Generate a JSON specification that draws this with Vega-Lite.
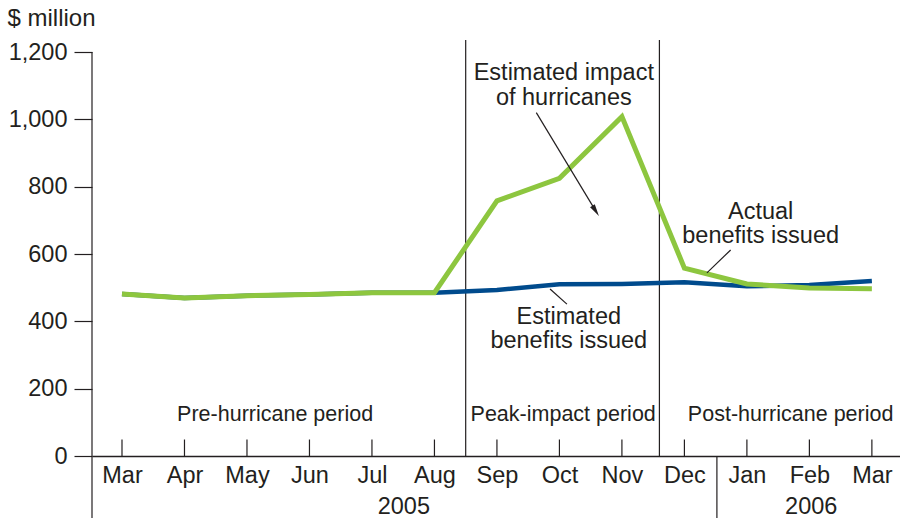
{
  "$schema": "https://vega.github.io/schema/vega-lite/v6.json",
  "width": 808,
  "height": 404,
  "autosize": "none",
  "padding": {"left": 92, "top": 52, "right": 0, "bottom": 62},
  "background": "white",
  "config": {
    "view": {"stroke": null},
    "font": "Liberation Sans",
    "text": {"font": "Liberation Sans", "color": "#231f20"}
  },
  "datasets": {
    "series": [
      {"m": 0, "series": "Estimated", "value": 481},
      {"m": 1, "series": "Estimated", "value": 469},
      {"m": 2, "series": "Estimated", "value": 476},
      {"m": 3, "series": "Estimated", "value": 480},
      {"m": 4, "series": "Estimated", "value": 485},
      {"m": 5, "series": "Estimated", "value": 485},
      {"m": 6, "series": "Estimated", "value": 493},
      {"m": 7, "series": "Estimated", "value": 510},
      {"m": 8, "series": "Estimated", "value": 511},
      {"m": 9, "series": "Estimated", "value": 516},
      {"m": 10, "series": "Estimated", "value": 504},
      {"m": 11, "series": "Estimated", "value": 508},
      {"m": 12, "series": "Estimated", "value": 520},
      {"m": 0, "series": "Actual", "value": 481},
      {"m": 1, "series": "Actual", "value": 469},
      {"m": 2, "series": "Actual", "value": 476},
      {"m": 3, "series": "Actual", "value": 480},
      {"m": 4, "series": "Actual", "value": 485},
      {"m": 5, "series": "Actual", "value": 485},
      {"m": 6, "series": "Actual", "value": 758},
      {"m": 7, "series": "Actual", "value": 825},
      {"m": 8, "series": "Actual", "value": 1008},
      {"m": 9, "series": "Actual", "value": 558},
      {"m": 10, "series": "Actual", "value": 511},
      {"m": 11, "series": "Actual", "value": 499},
      {"m": 12, "series": "Actual", "value": 497}
    ],
    "ticks": [
      {"m": 0}, {"m": 1}, {"m": 2}, {"m": 3}, {"m": 4}, {"m": 5}, {"m": 6},
      {"m": 7}, {"m": 8}, {"m": 9}, {"m": 10}, {"m": 11}, {"m": 12}
    ],
    "dividers": [
      {"x": 5.5, "y": 0, "y2": 1236},
      {"x": 8.6, "y": 0, "y2": 1236},
      {"x": 9.52, "y": -200, "y2": 0},
      {"x": -0.48, "y": -200, "y2": 1200}
    ],
    "periods": [
      {"x": 2.45, "y": 122, "label": "Pre-hurricane period"},
      {"x": 7.06, "y": 122, "label": "Peak-impact period"},
      {"x": 10.7, "y": 122, "label": "Post-hurricane period"}
    ],
    "years": [
      {"x": 4.51, "y": -151, "label": "2005"},
      {"x": 11.03, "y": -151, "label": "2006"}
    ],
    "notes": [
      {"x": 7.07, "y": 1137, "label": ["Estimated impact", "of hurricanes"]},
      {"x": 10.22, "y": 725, "label": ["Actual", "benefits issued"]},
      {"x": 7.15, "y": 413, "label": ["Estimated", "benefits issued"]}
    ],
    "leaders": [
      {"x": 6.63, "y": 1020, "x2": 7.58, "y2": 728},
      {"x": 9.74, "y": 612, "x2": 9.36, "y2": 544},
      {"x": 6.85, "y": 496, "x2": 7.12, "y2": 451}
    ],
    "arrowheads": [
      {"x": 7.58, "y": 728}
    ]
  },
  "layer": [
    {
      "data": {"name": "ticks"},
      "mark": {"type": "rule", "color": "#231f20", "strokeWidth": 1.2},
      "encoding": {
        "x": {
          "field": "m", "type": "quantitative",
          "scale": {"domain": [-0.48, 12.45], "nice": false, "zero": false},
          "axis": {
            "values": [0, 1, 2, 3, 4, 5, 6, 7, 8, 9, 10, 11, 12],
            "labelExpr": "['Mar','Apr','May','Jun','Jul','Aug','Sep','Oct','Nov','Dec','Jan','Feb','Mar'][datum.value]",
            "title": null,
            "ticks": false,
            "grid": false,
            "domain": true,
            "domainColor": "#231f20",
            "domainWidth": 1.3,
            "labelFont": "Liberation Sans",
            "labelFontSize": 23.5,
            "labelColor": "#231f20",
            "labelPadding": 7,
            "labelFlush": false,
            "labelOverlap": false
          }
        },
        "y": {
          "datum": 0, "type": "quantitative",
          "scale": {"domain": [0, 1200], "nice": false},
          "axis": {
            "values": [0, 200, 400, 600, 800, 1000, 1200],
            "format": ",d",
            "grid": false,
            "domain": false,
            "ticks": true,
            "tickSize": 18,
            "tickColor": "#231f20",
            "tickWidth": 1.2,
            "labelFont": "Liberation Sans",
            "labelFontSize": 23.5,
            "labelColor": "#231f20",
            "labelPadding": 7,
            "title": "$ million",
            "titleAngle": 0,
            "titleAlign": "left",
            "titleBaseline": "middle",
            "titleX": -85,
            "titleY": -34,
            "titleFont": "Liberation Sans",
            "titleFontSize": 24,
            "titleFontWeight": "normal",
            "titleColor": "#231f20"
          }
        },
        "y2": {"datum": 49}
      }
    },
    {
      "data": {"name": "dividers"},
      "mark": {"type": "rule", "color": "#231f20", "strokeWidth": 1.2},
      "encoding": {
        "x": {"field": "x", "type": "quantitative"},
        "y": {"field": "y", "type": "quantitative"},
        "y2": {"field": "y2"}
      }
    },
    {
      "data": {"name": "series"},
      "transform": [{"filter": "datum.series === 'Estimated'"}],
      "mark": {"type": "line", "color": "#004b8d", "strokeWidth": 4.5},
      "encoding": {
        "x": {"field": "m", "type": "quantitative"},
        "y": {"field": "value", "type": "quantitative"}
      }
    },
    {
      "data": {"name": "series"},
      "transform": [{"filter": "datum.series === 'Actual'"}],
      "mark": {"type": "line", "color": "#8dc63f", "strokeWidth": 5},
      "encoding": {
        "x": {"field": "m", "type": "quantitative"},
        "y": {"field": "value", "type": "quantitative"}
      }
    },
    {
      "data": {"name": "leaders"},
      "mark": {"type": "rule", "color": "#231f20", "strokeWidth": 1.2},
      "encoding": {
        "x": {"field": "x", "type": "quantitative"},
        "y": {"field": "y", "type": "quantitative"},
        "x2": {"field": "x2"},
        "y2": {"field": "y2"}
      }
    },
    {
      "data": {"name": "arrowheads"},
      "mark": {"type": "point", "shape": "M0,-1L0.45,1L-0.45,1Z", "filled": true, "color": "#231f20", "size": 150, "angle": 148, "opacity": 1},
      "encoding": {
        "x": {"field": "x", "type": "quantitative"},
        "y": {"field": "y", "type": "quantitative"}
      }
    },
    {
      "data": {"name": "periods"},
      "mark": {"type": "text", "fontSize": 21.5, "align": "center", "baseline": "middle"},
      "encoding": {
        "x": {"field": "x", "type": "quantitative"},
        "y": {"field": "y", "type": "quantitative"},
        "text": {"field": "label"}
      }
    },
    {
      "data": {"name": "years"},
      "mark": {"type": "text", "fontSize": 23.5, "align": "center", "baseline": "middle"},
      "encoding": {
        "x": {"field": "x", "type": "quantitative"},
        "y": {"field": "y", "type": "quantitative"},
        "text": {"field": "label"}
      }
    },
    {
      "data": {"name": "notes"},
      "mark": {"type": "text", "fontSize": 23.5, "align": "center", "baseline": "middle", "lineHeight": 24.5},
      "encoding": {
        "x": {"field": "x", "type": "quantitative"},
        "y": {"field": "y", "type": "quantitative"},
        "text": {"field": "label"}
      }
    }
  ]
}
